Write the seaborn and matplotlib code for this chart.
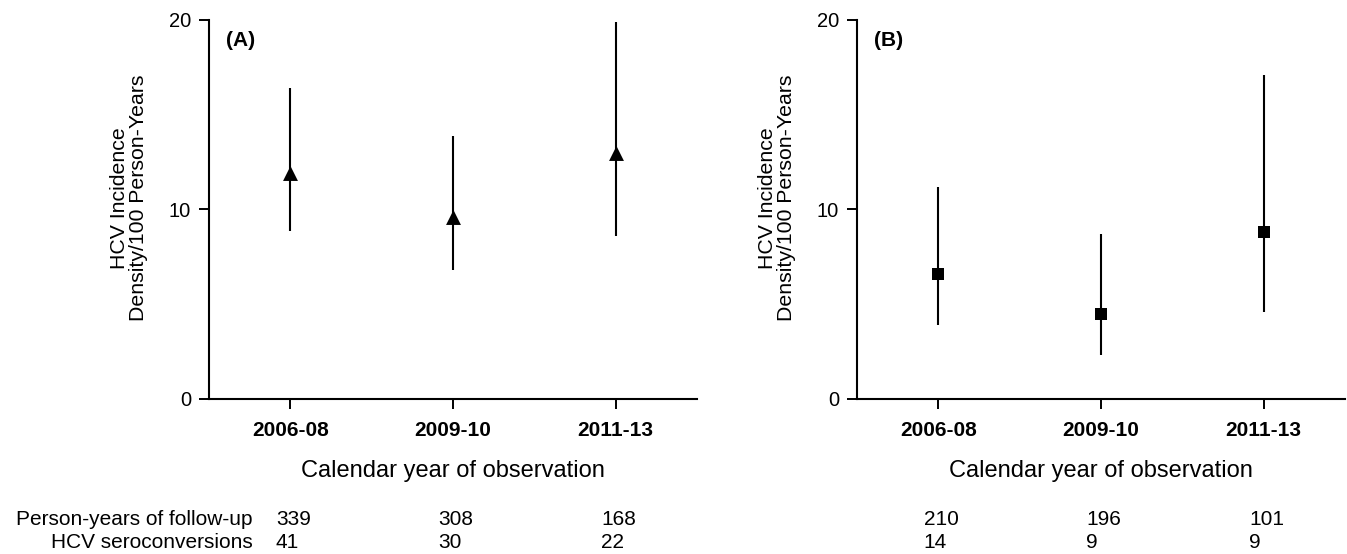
import numpy as np
import matplotlib
matplotlib.use("Agg")
import matplotlib.pyplot as plt
import matplotlib.transforms as mtransforms
import pandas as pd
import seaborn as sns

periods = ["2006-08", "2009-10", "2011-13"]

# panel A
rate_a = [11.9, 9.6, 13.0]
lo_a = [8.85, 6.8, 8.6]
hi_a = [16.4, 13.9, 19.9]
pyears_a = [339, 308, 168]
serocon_a = [41, 30, 22]

# panel B
rate_b = [6.6, 4.5, 8.8]
lo_b = [3.9, 2.3, 4.6]
hi_b = [11.2, 8.7, 17.1]
pyears_b = [210, 196, 101]
serocon_b = [14, 9, 9]

row_labels = ["Person-years of follow-up", "HCV seroconversions"]

sns.set_theme(style="ticks")
plt.rcParams["font.family"] = ["Liberation Sans", "DejaVu Sans"]
plt.rcParams["text.color"] = "black"
plt.rcParams["axes.labelcolor"] = "black"
plt.rcParams["xtick.color"] = "black"
plt.rcParams["ytick.color"] = "black"
plt.rcParams["axes.edgecolor"] = "black"


def plot_panel(ax, rate, lo, hi, pyears, serocon, marker, size, tag, show_rows):
    df = pd.DataFrame({"pos": np.arange(len(periods)), "rate": rate, "lo": lo, "hi": hi})
    ax.vlines(df["pos"], df["lo"], df["hi"], color="black", linewidth=1.5, zorder=2)
    sns.scatterplot(data=df, x="pos", y="rate", marker=marker, s=size, color="black",
                    edgecolor="black", linewidth=0, ax=ax, zorder=3)
    ax.set_xlim(-0.5, 2.5)
    ax.set_ylim(0, 20)
    ax.set_yticks([0, 10, 20])
    ax.set_xticks(df["pos"])
    ax.set_xticklabels(periods, fontweight="bold", fontsize=15)
    ax.tick_params(axis="y", labelsize=14.5, length=7, width=1.4, pad=6, color="black")
    ax.tick_params(axis="x", length=7, width=1.4, pad=9, color="black")
    for s in ["left", "bottom"]:
        ax.spines[s].set_linewidth(1.5)
        ax.spines[s].set_color("black")
    sns.despine(ax=ax)
    ax.set_ylabel("HCV Incidence\nDensity/100 Person-Years", fontsize=15.3, linespacing=1.0)
    ax.yaxis.set_label_coords(-0.125, 0.53)
    ax.set_xlabel("Calendar year of observation", fontsize=17, va="top")
    ax.xaxis.set_label_coords(0.5, -0.16)
    ax.text(0.035, 0.947, tag, transform=ax.transAxes, fontsize=15, fontweight="bold",
            va="center", ha="left")

    trans = mtransforms.blended_transform_factory(ax.transData, ax.transAxes)
    rows = [pyears, serocon]
    ys = [-0.333, -0.394]
    for vals, y, lab in zip(rows, ys, row_labels):
        if show_rows:
            ax.text(-0.234, y, lab, transform=trans, fontsize=15, ha="right", va="baseline")
        for i, v in enumerate(vals):
            ax.text(i - 0.09, y, str(v), transform=trans, fontsize=15, ha="left", va="baseline")


fig = plt.figure(figsize=(13.47, 5.54), dpi=100)
ax_a = fig.add_axes([0.1552, 0.2798, 0.3623, 0.6841])
ax_b = fig.add_axes([0.6362, 0.2798, 0.3623, 0.6841])

plot_panel(ax_a, rate_a, lo_a, hi_a, pyears_a, serocon_a, "^", 115, "(A)", True)
plot_panel(ax_b, rate_b, lo_b, hi_b, pyears_b, serocon_b, "s", 81, "(B)", False)

fig.savefig("out.png", dpi=100, facecolor="white")
